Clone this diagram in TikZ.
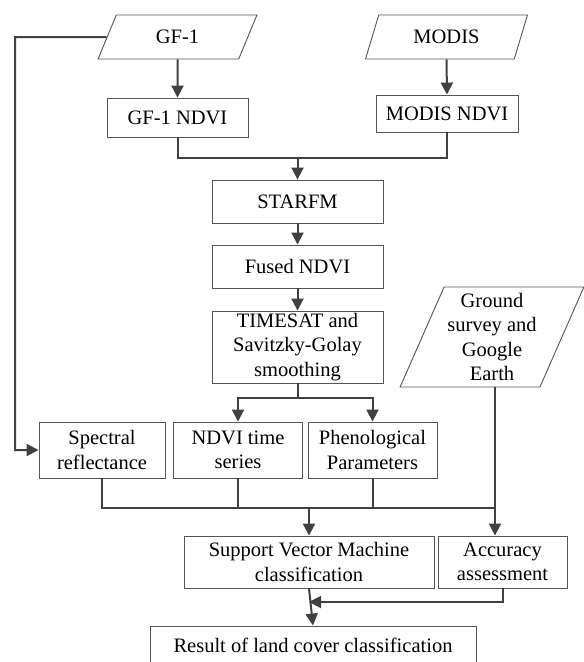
\documentclass[tikz,border=0pt]{standalone}
\usepackage{fontspec}
\setmainfont{Liberation Serif}
\usetikzlibrary{arrows.meta,shapes.geometric}
\definecolor{boxc}{RGB}{85,85,85}
\definecolor{linec}{RGB}{64,64,64}
\begin{document}
\begin{tikzpicture}[x=1pt,y=-1pt,
  every node/.style={font=\fontsize{20.5}{24.5}\selectfont, text=black},
  procbox/.style={draw=boxc, line width=0.9pt, rectangle, inner sep=0pt, align=center},
  databox/.style={draw=boxc, line width=0.9pt, trapezium, trapezium left angle=65, trapezium right angle=115, trapezium stretches=true, inner sep=0pt, align=center},
  conn/.style={draw=linec, line width=2pt},
  arr/.style={conn, -{Triangle[length=12pt,width=12pt]}}]
\useasboundingbox (0,0) rectangle (584,662);
% data inputs
\node[databox, minimum width=159pt, minimum height=44pt] (gf1) at (177.5,37) {GF-1};
\node[databox, minimum width=163pt, minimum height=44pt] (modis) at (446.5,37) {MODIS};
\node[databox, minimum width=184pt, minimum height=100pt] (ground) at (492,337) {Ground\\survey and\\Google\\Earth};
% process boxes
\node[procbox, minimum width=141pt, minimum height=39pt] (gfndvi) at (177.5,117.5) {GF-1 NDVI};
\node[procbox, minimum width=142pt, minimum height=37pt] (modndvi) at (447,113.5) {MODIS NDVI};
\node[procbox, minimum width=171pt, minimum height=43pt] (starfm) at (297.5,201.5) {STARFM};
\node[procbox, minimum width=171pt, minimum height=43pt] (fused) at (297.5,266.5) {Fused NDVI};
\node[procbox, minimum width=171pt, minimum height=72pt] (timesat) at (297.5,347) {TIMESAT and\\Savitzky-Golay\\smoothing};
\node[procbox, minimum width=126pt, minimum height=56pt] (spec) at (102,450) {Spectral\\reflectance};
\node[procbox, minimum width=129pt, minimum height=56pt] (ndvits) at (238,450) {NDVI time\\series};
\node[procbox, minimum width=129pt, minimum height=56pt] (phen) at (372.5,450) {Phenological\\Parameters};
\node[procbox, minimum width=250pt, minimum height=52pt] (svm) at (309,562) {Support Vector Machine\\classification};
\node[procbox, minimum width=129pt, minimum height=52pt] (acc) at (502.5,562) {Accuracy\\assessment};
\node[procbox, minimum width=326pt, minimum height=38pt] (result) at (313,645) {Result of land cover classification};
% junction coordinates
\coordinate (j1) at (297.5,158);
\coordinate (j2) at (297.5,398);
\coordinate (lc) at (15,37);
\coordinate (gx) at (495,508);
\coordinate (ax) at (503,602);
% connectors
\draw[arr] (gf1.south) -- (gfndvi.north);
\draw[arr] (modis.south) -- (modndvi.north);
\draw[conn] (gfndvi.south) |- (j1);
\draw[conn] (modndvi.south) |- (j1);
\draw[arr] (j1) -- (starfm.north);
\draw[arr] (starfm) -- (fused);
\draw[arr] (fused) -- (timesat);
\draw[conn] (timesat.south) -- (j2);
\draw[arr] (j2) -| (ndvits.north);
\draw[arr] (j2) -| (phen.north);
\draw[arr] (gf1.west) -- (lc) |- (spec.west);
\draw[conn] (spec.south) |- (gx);
\draw[conn] (ndvits.south) -- (ndvits.south |- gx);
\draw[conn] (phen.south) -- (phen.south |- gx);
\draw[arr] (svm.north |- gx) -- (svm.north);
\draw[arr] (gx |- ground.south) -- (gx |- acc.north);
\draw[arr] (acc.south -| ax) -- (ax) -- (svm.south |- ax);
\draw[arr] (svm.south) -- (result.north);
\end{tikzpicture}
\end{document}
